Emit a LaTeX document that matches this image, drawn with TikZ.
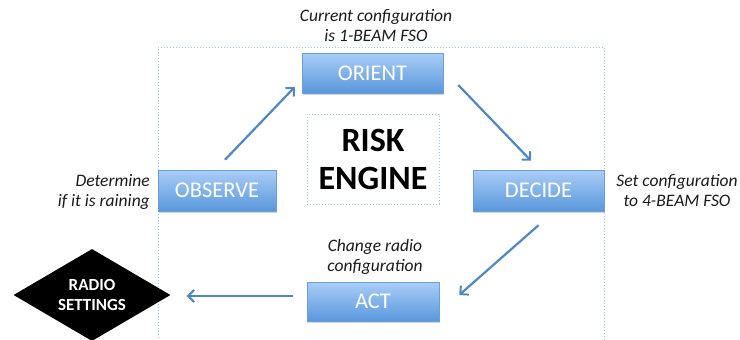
\documentclass[tikz,border=0pt]{standalone}
\usepackage{fontspec}
\setmainfont{Carlito}
\usetikzlibrary{shapes.geometric,shadows,arrows.meta}
\definecolor{boxtop}{HTML}{A9CDF7}
\definecolor{boxbot}{HTML}{5A97DC}
\definecolor{boxedge}{HTML}{6A9FD8}
\definecolor{arrowblue}{HTML}{4F87C6}
\definecolor{frameblue}{HTML}{9DC3E6}
\definecolor{labelgray}{HTML}{1A1A1A}
\tikzset{
  stagebox/.style={rectangle, top color=boxtop, bottom color=boxbot, draw=boxedge,
    line width=0.5pt, text=white, inner sep=0pt,
    font=\fontsize{22.5}{26}\selectfont,
    drop shadow={opacity=0.35, shadow xshift=1pt, shadow yshift=-2pt}},
  note/.style={align=center, text=labelgray, inner sep=0pt,
    font=\fontsize{17.5}{20}\selectfont\itshape},
  flow/.style={draw=arrowblue, line width=2.2pt,
    -{Straight Barb[length=6pt, width=12pt, line width=2pt]}},
  dotframe/.style={draw=frameblue, dotted, line width=1pt}
}
\begin{document}
\begin{tikzpicture}[x=1pt, y=-1pt]
  \useasboundingbox (0,0) rectangle (740,340);

  % outer dotted frame, running past the lower edge
  \draw[dotframe] (158,350) -- (158,47) -- (604,47) -- (604,350);

  % central engine
  \node[dotframe, minimum width=132pt, minimum height=90pt, align=center,
        font=\fontsize{34}{38}\selectfont\bfseries] (risk) at (373,159) {RISK\\ENGINE};

  % the four stages
  \node[stagebox, minimum width=141pt, minimum height=40pt] (orient)  at (372.5,73)  {ORIENT};
  \node[stagebox, minimum width=118pt, minimum height=41pt] (observe) at (217,190.5)  {OBSERVE};
  \node[stagebox, minimum width=131pt, minimum height=41pt] (decide)  at (538.5,190.5) {DECIDE};
  \node[stagebox, minimum width=132pt, minimum height=39pt] (act)     at (373,301.5)  {ACT};

  % radio settings
  \node[diamond, fill=black, text=white, aspect=1.7, inner sep=0pt,
        minimum width=157pt, minimum height=92pt, align=center,
        font=\fontsize{17}{20}\selectfont\bfseries] (radio) at (92,295) {RADIO\\SETTINGS};

  % annotations
  \node[note] (n1) at (376,26) {Current configuration\\is 1-BEAM FSO};
  \node[note, align=right, anchor=east] (n2) at (150,192) {Determine\\if it is raining};
  \node[note] (n3) at (677,191) {Set configuration\\to 4-BEAM FSO};
  \node[note] (n4) at (375,257) {Change radio\\configuration};

  % cycle connectors
  \draw[flow] ([xshift=8pt, yshift=10pt]observe.north) -- ([xshift=-7pt, yshift=-14pt]orient.west);
  \draw[flow] ([xshift=15pt, yshift=-12pt]orient.east) -- ([xshift=-7.5pt, yshift=9pt]decide.north);
  \draw[flow] ([yshift=-14pt]decide.south) -- ([xshift=20pt, yshift=6.5pt]act.east);
  \draw[flow] ([xshift=-14pt, yshift=5.5pt]act.west) -- ([xshift=16pt, yshift=-1pt]radio.east);
\end{tikzpicture}
\end{document}
